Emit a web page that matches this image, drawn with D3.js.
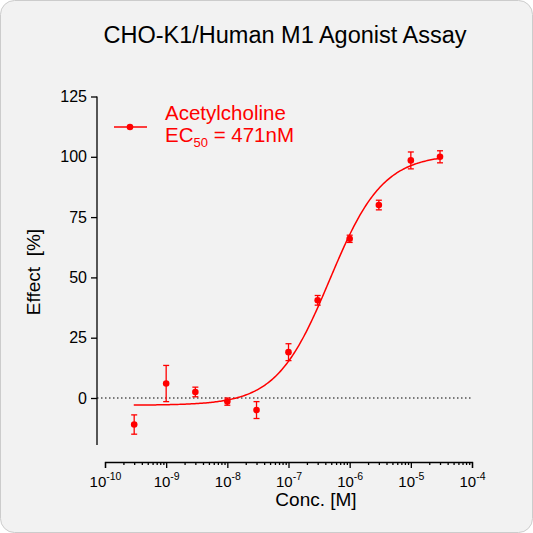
<!DOCTYPE html><html><head><script src="https://cdn.jsdelivr.net/npm/d3@7"></script>
<style>body{margin:0;background:#fff}</style></head><body><script>
const conc=[3e-10,1e-9,3e-9,1e-8,3e-8,1e-7,3e-7,1e-6,3e-6,1e-5,3e-5];
const effect=[-11,6,2.5,-1.5,-5,19,40.5,66,80,98.5,100];
const errs=[4,7.5,2,1.5,3.5,3.5,2,1.5,2,3.5,2.5];
const yTicks=[0,25,50,75,100,125];
const xTickExp=[-10,-9,-8,-7,-6,-5,-4];
const fit={bottom:-3,top:101,ec50:471e-9,hill:1};
const W=533,H=533,red="#f00";
const svg=d3.select("body").append("svg").attr("width",W).attr("height",H).style("font-family","Liberation Sans, Arial");
svg.append("rect").attr("x",0.5).attr("y",0.5).attr("width",W-1).attr("height",H-1).attr("rx",14).attr("fill","#f2f2f2").attr("stroke","#ccc");
const x=d3.scaleLog().domain([1e-10,1e-4]).range([105,472]);
const y=d3.scaleLinear().domain([0,125]).range([398,96.5]);
svg.append("text").attr("x",285).attr("y",43).attr("text-anchor","middle").attr("font-size",23.5).text("CHO-K1/Human M1 Agonist Assay");
const ya=svg.append("g").attr("transform","translate(97,0)").call(d3.axisLeft(y).tickValues(yTicks).tickSize(6).tickSizeOuter(0));
ya.select(".domain").attr("d",`M0,${y(125)}V${y(-19.5)}`);
ya.selectAll("text").attr("font-size",16).attr("fill","#000").attr("x",-10);
const minor=[];for(let e=-10;e<-4;e++)for(let k=2;k<10;k++)minor.push(k*10**e);
const xa=svg.append("g").attr("transform","translate(0,462)").call(d3.axisBottom(x).tickValues(xTickExp.map(e=>10**e)).tickSize(6).tickFormat(()=>""));
xa.selectAll(".tick").append("text").attr("y",25).attr("fill","#000").attr("font-size",15).attr("text-anchor","middle")
 .each(function(d){const t=d3.select(this);t.append("tspan").text("10");t.append("tspan").attr("dy",-7).attr("font-size",10.5).text(Math.round(Math.log10(d)));});
svg.append("g").attr("transform","translate(0,462)").call(d3.axisBottom(x).tickValues(minor).tickSize(3).tickFormat(()=>"")).select(".domain").remove();
svg.selectAll("line,.domain").attr("stroke","#000").attr("stroke-width",1.3);
svg.append("text").attr("x",316).attr("y",506).attr("text-anchor","middle").attr("font-size",19).text("Conc. [M]");
svg.append("text").attr("transform","translate(40,272) rotate(-90)").attr("text-anchor","middle").attr("font-size",19).text("Effect\u00a0\u00a0[%]");
svg.append("line").attr("x1",97).attr("x2",472).attr("y1",y(0)).attr("y2",y(0)).attr("stroke","#000").attr("stroke-dasharray","1.5,2.5");
const f=c=>fit.bottom+(fit.top-fit.bottom)/(1+Math.pow(fit.ec50/c,fit.hill));
const cx=d3.range(-9.53,-4.52,0.02).map(e=>10**e);
svg.append("path").attr("d",d3.line().x(c=>x(c)).y(c=>y(f(c)))(cx)).attr("fill","none").attr("stroke",red).attr("stroke-width",1.5);
const g=svg.append("g").selectAll("g").data(conc).join("g");
g.append("line").attr("x1",c=>x(c)).attr("x2",c=>x(c)).attr("y1",(c,i)=>y(effect[i]-errs[i])).attr("y2",(c,i)=>y(effect[i]+errs[i])).attr("stroke",red).attr("stroke-width",1.3);
[-1,1].forEach(s=>g.append("line").attr("x1",c=>x(c)-3).attr("x2",c=>x(c)+3).attr("y1",(c,i)=>y(effect[i]+s*errs[i])).attr("y2",(c,i)=>y(effect[i]+s*errs[i])).attr("stroke",red).attr("stroke-width",1.3));
g.append("circle").attr("cx",c=>x(c)).attr("cy",(c,i)=>y(effect[i])).attr("r",3.3).attr("fill",red);
svg.append("line").attr("x1",114).attr("x2",147).attr("y1",127).attr("y2",127).attr("stroke",red).attr("stroke-width",1.5);
svg.append("circle").attr("cx",130).attr("cy",127).attr("r",3.3).attr("fill",red);
svg.append("text").attr("x",165).attr("y",120).attr("fill",red).attr("font-size",20.5).text("Acetylcholine");
const t2=svg.append("text").attr("x",165).attr("y",142).attr("fill",red).attr("font-size",20.5);
t2.append("tspan").text("EC");t2.append("tspan").attr("dy",5).attr("font-size",13).text("50");t2.append("tspan").attr("dy",-5).text(" = 471nM");
</script></body></html>
